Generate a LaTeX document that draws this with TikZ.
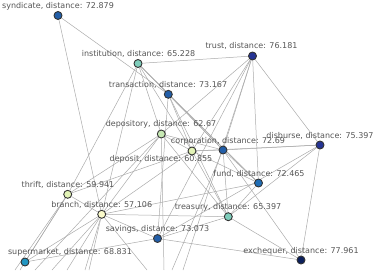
\documentclass[tikz,border=0pt]{standalone}
\usepackage{fontspec}
\setmainfont{DejaVu Sans}
\usetikzlibrary{backgrounds}
\definecolor{edgec}{HTML}{ABABAB}
\definecolor{txtc}{HTML}{555555}
\definecolor{strokec}{HTML}{333333}
\definecolor{cDark}{HTML}{0B1F5C}
\definecolor{cNavy}{HTML}{253494}
\definecolor{cBlue}{HTML}{225EA8}
\definecolor{cMid}{HTML}{1F6DB5}
\definecolor{cCyan}{HTML}{2196C2}
\definecolor{cTeal}{HTML}{7FCDBB}
\definecolor{cLgreen}{HTML}{C7E9B4}
\definecolor{cPale}{HTML}{E2F3B6}
\definecolor{cYellow}{HTML}{FBFBCB}
\begin{document}
\begin{tikzpicture}[x=1pt,y=-1pt,
  vtx/.style={circle,draw=strokec,line width=0.9pt,minimum size=8pt,inner sep=0pt},
  lbl/.style={font=\fontsize{8}{9}\selectfont,text=txtc,inner sep=0pt},
  edge/.style={draw=edgec,line width=0.5pt}]
\useasboundingbox (0,0) rectangle (374,270);

% vertices
\node[vtx,fill=cBlue]   (syn) at (58,15.5) {};
\node[vtx,fill=cTeal]   (ins) at (138,63.5) {};
\node[vtx,fill=cNavy]   (tru) at (252.5,56) {};
\node[vtx,fill=cBlue]   (tra) at (168.3,94.3) {};
\node[vtx,fill=cLgreen] (dep) at (161.3,134) {};
\node[vtx,fill=cPale]   (dpt) at (192,151) {};
\node[vtx,fill=cBlue]   (cor) at (223,150) {};
\node[vtx,fill=cNavy]   (dis) at (320,145) {};
\node[vtx,fill=cMid]    (fun) at (258.5,183) {};
\node[vtx,fill=cPale]   (thr) at (67.7,194.3) {};
\node[vtx,fill=cYellow] (bra) at (101.7,214.3) {};
\node[vtx,fill=cTeal]   (trs) at (228.3,216.7) {};
\node[vtx,fill=cBlue]   (sav) at (157.5,238.5) {};
\node[vtx,fill=cCyan]   (sup) at (25,262) {};
\node[vtx,fill=cDark]   (exc) at (301,260) {};

% free ends at the lower border
\coordinate (b1) at (15,270);
\coordinate (b2) at (20,270);
\coordinate (b3) at (35,270);
\coordinate (b4) at (52,270);
\coordinate (b5) at (67,270);
\coordinate (b6) at (85,270);
\coordinate (b7) at (89,270);
\coordinate (b8) at (147,270);
\coordinate (b9) at (164,270);
\coordinate (b10) at (172,270);
\coordinate (b11) at (183,270);

% labels
\node[lbl] (lsyn) at (58,6) {syndicate, distance: 72.879};
\node[lbl] (lins) at (138.5,54) {institution, distance: 65.228};
\node[lbl] (ltru) at (251.5,46) {trust, distance: 76.181};
\node[lbl] (ltra) at (168,84.5) {transaction, distance: 73.167};
\node[lbl] (ldep) at (161,124.5) {depository, distance: 62.67};
\node[lbl] (ldpt) at (161,159.5) {deposit, distance: 60.855};
\node[lbl] (lcor) at (228,141) {corporation, distance: 72.69};
\node[lbl] (ldis) at (320,136) {disburse, distance: 75.397};
\node[lbl] (lfun) at (259,174) {fund, distance: 72.465};
\node[lbl] (lthr) at (68,185) {thrift, distance: 59.941};
\node[lbl] (lbra) at (101.7,205) {branch, distance: 57.106};
\node[lbl] (ltrs) at (228,207.5) {treasury, distance: 65.397};
\node[lbl] (lsav) at (157.5,229.5) {savings, distance: 73.073};
\node[lbl] (lsup) at (70,252) {supermarket, distance: 68.831};
\node[lbl] (lexc) at (301,251) {exchequer, distance: 77.961};

\begin{scope}[on background layer]
\foreach \a/\b in {syn/tra, syn/bra,
  ins/tru, ins/tra, ins/thr, ins/bra, ins/dep, ins/dpt, ins/cor, ins/fun,
  tru/dep, tru/dpt, tru/cor, tru/fun, tru/dis, tru/sav,
  tra/dpt, tra/cor, tra/sav, tra/trs, tra/fun,
  dep/dpt, dep/cor, dep/thr, dep/bra, dep/trs,
  dpt/cor, dpt/dis, dpt/fun, dpt/trs, dpt/bra, dpt/thr,
  cor/fun, cor/trs, cor/exc, cor/dis,
  dis/trs, dis/exc, dis/sav,
  fun/trs, fun/bra,
  thr/bra, thr/sup,
  bra/trs, bra/sav, bra/sup,
  sav/sup, sav/exc, sav/trs,
  trs/exc,
  thr/b1, thr/b2, dep/b3, bra/b4, bra/b5, bra/b6, bra/b7, bra/b8,
  dep/b9, cor/b10, tru/b11}
  \draw[edge] (\a) -- (\b);
\end{scope}
\end{tikzpicture}
\end{document}
